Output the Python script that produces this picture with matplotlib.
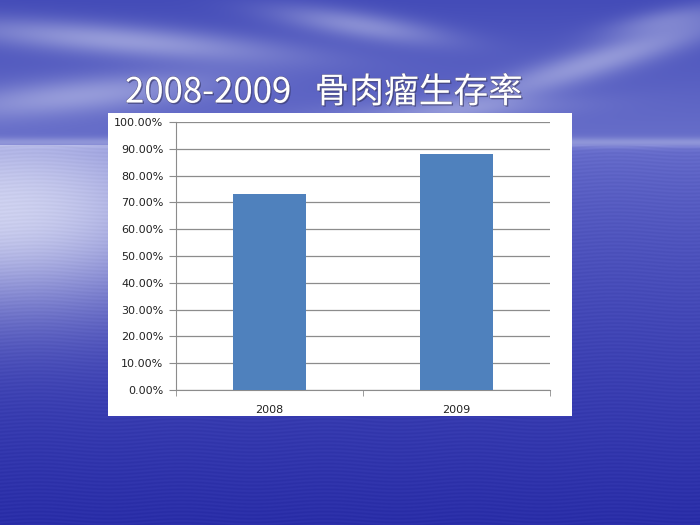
import numpy as np
import matplotlib
matplotlib.use("Agg")
import matplotlib.pyplot as plt
import matplotlib.patheffects as pe
from matplotlib.ticker import FuncFormatter, MultipleLocator

# ---- data ----
categories = ["2008", "2009"]
survival = [0.732, 0.881]
title_text = "2008-2009   骨肉瘤生存率"

plt.rcParams['font.family'] = ['Noto Sans CJK SC', 'DejaVu Sans']

W, H = 700, 525
fig = plt.figure(figsize=(7, 5.25), dpi=100)

# ---- decorative background (sky + sea) ----
yy, xx = np.mgrid[0:H, 0:W].astype(float)
hor = 145.0

def lerp(a, b, t):
    a = np.array(a, float) / 255; b = np.array(b, float) / 255
    return a + (b - a) * t[..., None]

t_sky = np.clip(yy / hor, 0, 1)
sky = lerp((68, 76, 184), (105, 112, 202), t_sky)
t_sea = np.clip((yy - hor) / (H - hor), 0, 1) ** 0.6
sea = lerp((108, 114, 206), (42, 46, 168), t_sea)
img = np.where((yy < hor)[..., None], sky, sea)

def streak(cx, cy, lx, ly, ang, a):
    c, s = np.cos(ang), np.sin(ang)
    dx, dy = xx - cx, yy - cy
    u = dx * c + dy * s
    v = -dx * s + dy * c
    return a * np.exp(-(u / lx) ** 2 - (v / ly) ** 2)

cloud = (streak(120, 40, 170, 16, 0.08, 0.45) + streak(360, 25, 90, 14, 0.15, 0.38)
         + streak(600, 60, 140, 16, -0.3, 0.42) + streak(80, 95, 140, 18, -0.1, 0.4)
         + streak(450, 110, 120, 12, -0.05, 0.25) + streak(660, 20, 60, 12, -0.2, 0.25))
cloud = np.clip(cloud, 0, 0.7) * (yy < hor)
white = np.array([0.92, 0.93, 0.98])
img = img * (1 - cloud[..., None]) + white * cloud[..., None]

glow = 0.8 * np.exp(-(xx / 220) ** 2 - ((yy - 210) / 100) ** 2) * (yy >= hor)
img = img * (1 - glow[..., None]) + white * glow[..., None]
band = 0.3 * np.exp(-((yy - hor + 3) / 5) ** 2)
img = img * (1 - band[..., None]) + white * band[..., None]
ripple = 0.012 * np.sin(yy * 1.7 + np.sin(xx / 23.0) * 3) * (yy >= hor)
img = np.clip(img + ripple[..., None], 0, 1)

bg = fig.add_axes([0, 0, 1, 1])
bg.imshow(img, extent=[0, W, H, 0], aspect='auto', interpolation='bilinear')
bg.set_axis_off()

# ---- title ----
fig.text(324 / W, 1 - 93 / H, title_text, ha='center', va='center',
         fontsize=25, color='white',
         path_effects=[pe.withSimplePatchShadow(offset=(1, -1), shadow_rgbFace='#303060', alpha=0.6),
                       pe.withStroke(linewidth=0.8, foreground='#606090')])

# ---- white chart box ----
box = fig.add_axes([108 / W, 1 - 416 / H, 464 / W, 303 / H])
box.set_facecolor('white')
box.set_xticks([]); box.set_yticks([])
for s in box.spines.values():
    s.set_visible(False)

# ---- chart ----
ax = fig.add_axes([176 / W, 1 - 390 / H, 374 / W, 268 / H])
ax.set_facecolor('white')
x = np.arange(len(categories))
ax.bar(x, survival, width=0.39, color='#4F81BD', zorder=3)
ax.set_xlim(-0.5, len(categories) - 0.5)
ax.set_ylim(0, 1.0)
ax.yaxis.set_major_locator(MultipleLocator(0.1))
ax.yaxis.set_major_formatter(FuncFormatter(lambda v, p: f"{v*100:.2f}%"))
ax.grid(axis='y', color='#8c8c8c', linewidth=0.9, zorder=0)
ax.set_xticks(x)
ax.set_xticklabels(categories)
ax.set_xticks(np.arange(-0.5, len(categories)), minor=True)
ax.tick_params(axis='x', which='major', length=0, labelsize=8, pad=11, colors='#222222')
ax.tick_params(axis='x', which='minor', length=4, color='#8c8c8c')
ax.tick_params(axis='y', length=5, color='#8c8c8c', labelsize=8, pad=4, labelcolor='#222222')
for lab in ax.get_yticklabels() + ax.get_xticklabels():
    lab.set_family(['DejaVu Sans'])
for side in ['top', 'right']:
    ax.spines[side].set_visible(False)
ax.spines['left'].set_color('#8c8c8c')
ax.spines['bottom'].set_color('#8c8c8c')

fig.savefig('out.png', dpi=100)
